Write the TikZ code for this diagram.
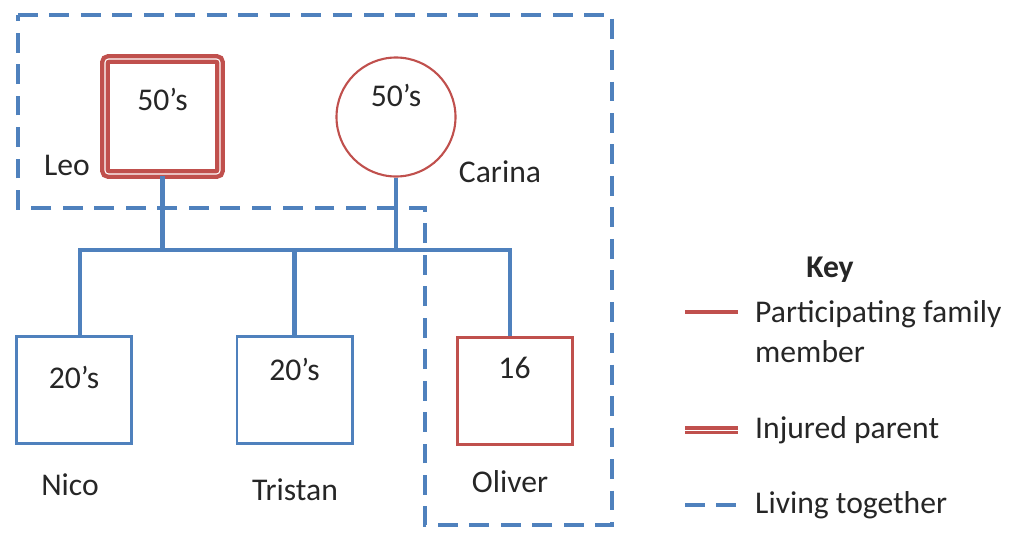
\documentclass[tikz,border=0pt]{standalone}
\usepackage{fontspec}
\setmainfont{Carlito}
\usetikzlibrary{positioning}

\definecolor{famred}{RGB}{192,80,77}
\definecolor{famblue}{RGB}{79,129,189}

\begin{document}
\begin{tikzpicture}[font=\fontsize{18}{22.7}\selectfont, text=black!85,
    member/.style={draw=famblue, line width=1.7pt, minimum width=2.3cm, minimum height=2.15cm},
    partmember/.style={member, draw=famred},
    injured/.style={draw=famred, line width=2.5pt, double=white, double distance=0.6pt,
        rounded corners=2pt, minimum size=2.3cm},
    partfemale/.style={circle, draw=famred, line width=1.2pt, minimum size=2.38cm},
    tie/.style={draw=famblue, line width=2.3pt},
    household/.style={draw=famblue, line width=2.8pt, dash pattern=on 11.3pt off 6.6pt},
    partline/.style={draw=famred, line width=2.2pt},
    injline/.style={draw=famred, line width=1.8pt, double=white, double distance=0.5pt}]

    \useasboundingbox (0,0) rectangle (20.3,10.64);

    % Household boundary
    \draw[household] (0.36,10.34) -- (12.24,10.34) -- (12.24,0.14) -- (8.5,0.14)
        -- (8.5,6.48) -- (0.36,6.48) -- cycle;

    % Parents
    \node[injured] (leo) at (3.25,8.31) {};
    \node at ([yshift=-0.85cm]leo.north) {50’s};
    \node at (1.34,7.34) {Leo};

    \node[partfemale] (carina) at (7.92,8.3) {};
    \node at ([yshift=-0.78cm]carina.north) {50’s};
    \node at (10.0,7.2) {Carina};

    % Children
    \node[member] (nico) at (1.48,2.84) {};
    \node at ([yshift=-0.86cm]nico.north) {20’s};
    \node at (1.4,0.94) {Nico};

    \node[member] (tristan) at (5.89,2.84) {};
    \node at ([yshift=-0.7cm]tristan.north) {20’s};
    \node at (5.9,0.84) {Tristan};

    \node[partmember] (oliver) at (10.29,2.82) {};
    \node at ([yshift=-0.64cm]oliver.north) {16};
    \node at (10.2,1.0) {Oliver};

    % Sibling line and ties to parents
    \coordinate (sibs) at (0,5.64);
    \coordinate (nicotop) at ([xshift=0.12cm]nico.north);
    \coordinate (olivertop) at ([xshift=-0.09cm]oliver.north);
    \draw[tie] (nicotop) |- (sibs -| olivertop) -- (olivertop);
    \draw[tie] (tristan.north) -- (tristan.north |- sibs);
    \draw[tie] (leo.south) -- (leo.south |- sibs);
    \draw[tie] (carina.south) -- (carina.south |- sibs);

    % Key
    \node at (16.6,5.24) {\textbf{Key}};

    \draw[partline] (13.7,4.4) -- (14.76,4.4);
    \node[anchor=west, align=left] at (14.98,4.0) {Participating family\\member};

    \draw[injline] (13.7,2.04) -- (14.76,2.04);
    \node[anchor=west] at (14.98,2.04) {Injured parent};

    \draw[household] (13.7,0.54) -- (14.76,0.54);
    \node[anchor=west] at (14.98,0.54) {Living together};

\end{tikzpicture}
\end{document}
